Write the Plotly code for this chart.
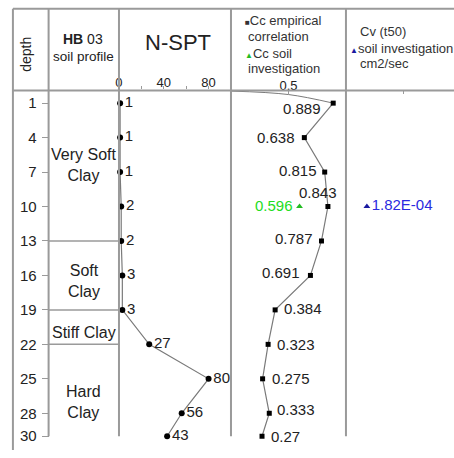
import plotly.graph_objects as go

# ---------------- data ----------------
depth = [1, 4, 7, 10, 13, 16, 19, 22, 25, 28, 30]
nspt = [1, 1, 1, 2, 2, 3, 3, 27, 80, 56, 43]
cc_emp = [0.889, 0.638, 0.815, 0.843, 0.787, 0.691, 0.384, 0.323, 0.275, 0.333, 0.27]
cc_lab_depth = [10]
cc_lab = [0.596]
cv_depth = [10]
cv_val = [1.82e-4]
cv_text = ["1.82E-04"]
soil_names = ["Very Soft<br>Clay", "Soft<br>Clay", "Stiff Clay", "Hard<br>Clay"]
soil_label_depth = [6.4, 16.5, 21.0, 27.0]
soil_bounds = [13, 19, 22]
depth_ticks = [1, 4, 7, 10, 13, 16, 19, 22, 25, 28, 30]
nspt_ticks = [0, 40, 80]
nspt_minor = [20, 60]
cc_ticks = [0.5]
lead_cc = [0.0, 0.5, 0.889]
lead_depth = [-0.05, 0.25, 1.0]

W, H = 454, 458
FONT = "Liberation Sans, Arial, sans-serif"
GRAY = "#9a9a9a"
LINE = "#7a7a7a"
TXT = "#222222"


def px(x):
    return x / W


def py(y):
    return 1 - y / H


fig = go.Figure()

# N-SPT
fig.add_trace(go.Scatter(
    x=nspt, y=depth, xaxis="x", yaxis="y", mode="lines+markers+text",
    text=[str(v) for v in nspt], textposition="middle right",
    textfont=dict(family=FONT, size=15, color=TXT),
    line=dict(color=LINE, width=1.2),
    marker=dict(symbol="circle", size=6, color="black"),
    cliponaxis=False, showlegend=False))

# lead line in Cc column
fig.add_trace(go.Scatter(
    x=lead_cc, y=lead_depth, xaxis="x2", yaxis="y", mode="lines",
    line=dict(color=LINE, width=1, shape="spline"), showlegend=False))

# Cc empirical
fig.add_trace(go.Scatter(
    x=cc_emp, y=depth, xaxis="x2", yaxis="y", mode="lines+markers",
    line=dict(color=LINE, width=1.2),
    marker=dict(symbol="square", size=5, color="black"),
    cliponaxis=False, showlegend=False))

# Cc soil investigation
fig.add_trace(go.Scatter(
    x=cc_lab, y=cc_lab_depth, xaxis="x2", yaxis="y", mode="markers",
    marker=dict(symbol="triangle-up", size=6, color="#22bb22"),
    cliponaxis=False, showlegend=False))

# Cv
fig.add_trace(go.Scatter(
    x=cv_val, y=cv_depth, xaxis="x3", yaxis="y", mode="markers+text",
    text=cv_text, textposition="middle right",
    textfont=dict(family=FONT, size=15, color="#2a2ae0"),
    marker=dict(symbol="triangle-up", size=6, color="#1a1aa0"),
    cliponaxis=False, showlegend=False))

# Cc labels
cc_style = [
    ("right", -10, -5), ("right", -7, 0), ("right", -6, 2), ("center", -10, 14),
    ("right", -6, 2), ("right", -8, 3), ("left", 7, 1), ("left", 7, 0),
    ("left", 7, 0), ("left", 6, 4), ("left", 7, 0)]
ann = []
for v, d, (anc, xs, ys) in zip(cc_emp, depth, cc_style):
    ann.append(dict(x=v, y=d, xref="x2", yref="y", text=f"{v:g}", showarrow=False,
                    xanchor=anc, yanchor="middle", xshift=xs, yshift=ys,
                    font=dict(family=FONT, size=15, color=TXT)))
for v, d in zip(cc_lab, cc_lab_depth):
    ann.append(dict(x=v, y=d, xref="x2", yref="y", text=f"{v:g}", showarrow=False,
                    xanchor="right", yanchor="middle", xshift=-5, yshift=1,
                    font=dict(family=FONT, size=15, color="#22dd22")))

# soil texts
for name, d in zip(soil_names, soil_label_depth):
    ann.append(dict(x=px(80.5), y=d, xref="paper", yref="y", text=name, showarrow=False,
                    xanchor="center", yanchor="middle",
                    font=dict(family=FONT, size=16, color=TXT)))

# header texts
ann += [
    dict(x=px(22), y=py(55), xref="paper", yref="paper", text="depth", textangle=-90,
         xanchor="center", yanchor="middle",
         showarrow=False, font=dict(family=FONT, size=14, color=TXT)),
    dict(x=px(80), y=py(40), xref="paper", yref="paper", text="<b>HB</b> 03",
         xanchor="center", yanchor="middle",
         showarrow=False, font=dict(family=FONT, size=14, color=TXT)),
    dict(x=px(80), y=py(58), xref="paper", yref="paper", text="soil profile",
         xanchor="center", yanchor="middle",
         showarrow=False, font=dict(family=FONT, size=13.5, color=TXT)),
    dict(x=px(176), y=py(43), xref="paper", yref="paper", text="N-SPT",
         xanchor="center", yanchor="middle",
         showarrow=False, font=dict(family=FONT, size=22, color=TXT)),
]
leg = [
    (241, 21, "<span style='font-size:8px'>■</span>Cc empirical"),
    (244, 37, "correlation"),
    (241, 54, "<span style='font-size:8px;color:#22bb22'>▲</span>Cc soil"),
    (244, 70, "investigation"),
    (357, 32, "Cv (t50)"),
    (347, 49, "<span style='font-size:8px;color:#1a1aa0'>▲</span>soil investigation"),
    (357, 65, "cm2/sec"),
]
for x, y, t in leg:
    ann.append(dict(x=px(x), y=py(y), xref="paper", yref="paper", text=t, showarrow=False,
                    xanchor="left", yanchor="middle",
                    font=dict(family=FONT, size=13, color="#333333")))

# frame shapes
shapes = []
def pline(x0, y0, x1, y1, w=2, c=GRAY):
    shapes.append(dict(type="line", xref="paper", yref="paper",
                       x0=px(x0), y0=py(y0), x1=px(x1), y1=py(y1),
                       line=dict(color=c, width=w)))

pline(9, 9, 454, 9)
pline(9, 92, 454, 92)
pline(9, 9, 9, 458)
for xv in [45, 116, 229, 345]:
    pline(xv, 9, xv, 444)
for b in soil_bounds:
    shapes.append(dict(type="line", xref="paper", yref="y", x0=px(45), x1=px(116),
                       y0=b, y1=b, line=dict(color=GRAY, width=1.5)))

axis_common = dict(showgrid=False, zeroline=False, showline=False, side="top",
                   anchor="y", tickcolor=GRAY, tickwidth=1,
                   tickfont=dict(family=FONT, size=13, color=TXT))
fig.update_layout(
    width=W, height=H, margin=dict(l=0, r=0, t=0, b=0),
    paper_bgcolor="white", plot_bgcolor="white",
    xaxis=dict(domain=[px(116), px(229)], range=[0, 100], tickvals=nspt_ticks,
               ticks="outside", ticklen=3, ticklabelstandoff=-6,
               minor=dict(tickvals=nspt_minor, ticks="outside", ticklen=3, tickcolor=GRAY),
               **axis_common),
    xaxis2=dict(domain=[px(229), px(345)], range=[0, 1], tickvals=cc_ticks,
                ticks="inside", ticklen=5, ticklabelstandoff=-3, **axis_common),
    xaxis3=dict(domain=[px(345), 1], range=[0, 0.001 * 109 / 116], tickvals=[0.0005],
                ticks="inside", ticklen=4, showticklabels=False, **axis_common),
    yaxis=dict(domain=[py(444), py(92)], range=[30, -0.11], tickvals=depth_ticks,
               anchor="free", position=px(45), ticks="outside", ticklen=7,
               ticklabelstandoff=2,
               tickcolor=GRAY, showgrid=False, zeroline=False, showline=False,
               tickfont=dict(family=FONT, size=15, color=TXT)),
    annotations=ann, shapes=shapes, showlegend=False,
)

fig.write_html("out.html")
